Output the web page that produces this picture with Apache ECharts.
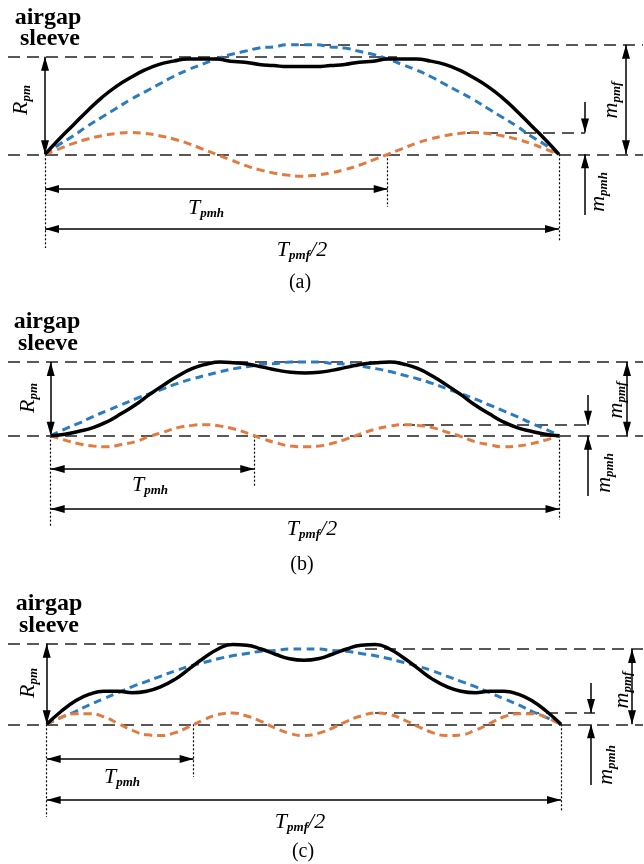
<!DOCTYPE html>
<html><head><meta charset="utf-8">
<script src="https://cdn.jsdelivr.net/npm/echarts@6/dist/echarts.min.js"></script>
<style>html,body{margin:0;padding:0;background:#fff}#c{width:644px;height:864px}</style>
</head><body><div id="c"></div>
<script>
// ---- data (per-unit of fundamental amplitude, electrical angle over half a pole pitch) ----
const angleDeg = [0,5,10,15,20,25,30,35,40,45,50,55,60,65,70,75,80,85,90,95,100,105,110,115,120,125,130,135,140,145,150,155,160,165,170,175,180];
const fundamentalPU = [0,0.09,0.17,0.26,0.34,0.42,0.50,0.57,0.64,0.71,0.77,0.82,0.87,0.91,0.94,0.97,0.98,1.00,1.00,1.00,0.98,0.97,0.94,0.91,0.87,0.82,0.77,0.71,0.64,0.57,0.50,0.42,0.34,0.26,0.17,0.09,0];
// (a) 3rd harmonic
const harmonicA = [0,0.05,0.10,0.14,0.17,0.19,0.20,0.19,0.17,0.14,0.10,0.05,0,-0.05,-0.10,-0.14,-0.17,-0.19,-0.20,-0.19,-0.17,-0.14,-0.10,-0.05,0,0.05,0.10,0.14,0.17,0.19,0.20,0.19,0.17,0.14,0.10,0.05,0];
const resultantA = [0,0.14,0.27,0.40,0.52,0.62,0.70,0.77,0.82,0.85,0.87,0.87,0.87,0.85,0.84,0.82,0.81,0.80,0.80,0.80,0.81,0.82,0.84,0.85,0.87,0.87,0.87,0.85,0.82,0.77,0.70,0.62,0.52,0.40,0.27,0.14,0];
// (b) 5th harmonic
const harmonicB = [0,-0.06,-0.11,-0.14,-0.15,-0.12,-0.08,-0.01,0.05,0.11,0.14,0.15,0.13,0.09,0.03,-0.04,-0.10,-0.14,-0.15,-0.14,-0.10,-0.04,0.03,0.09,0.13,0.15,0.14,0.11,0.05,-0.01,-0.08,-0.12,-0.15,-0.14,-0.11,-0.06,0];
const resultantB = [0,0.02,0.06,0.11,0.19,0.30,0.42,0.56,0.69,0.81,0.91,0.97,1.00,0.99,0.97,0.93,0.89,0.86,0.85,0.86,0.89,0.93,0.97,0.99,1.00,0.97,0.91,0.81,0.69,0.56,0.42,0.30,0.19,0.11,0.06,0.02,0];
// (c) 7th harmonic
const harmonicC = [0,0.09,0.14,0.14,0.10,0.01,-0.08,-0.14,-0.15,-0.11,-0.03,0.06,0.13,0.15,0.11,0.04,-0.05,-0.12,-0.15,-0.12,-0.05,0.04,0.11,0.15,0.13,0.06,-0.03,-0.11,-0.15,-0.14,-0.08,0.01,0.10,0.14,0.14,0.09,0];
const resultantC = [0,0.17,0.31,0.40,0.44,0.44,0.42,0.44,0.50,0.60,0.74,0.88,1.00,1.06,1.05,1.00,0.93,0.87,0.85,0.87,0.93,1.00,1.05,1.06,1.00,0.88,0.74,0.60,0.50,0.44,0.42,0.44,0.44,0.40,0.31,0.17,0];
// annotation levels
const rpmLevels = [0.89, 1.00, 1.07];
const fundamentalPeak = 1.0;
const harmonicPeaks = [0.20, 0.15, 0.15];
const harmonicPeriodsDeg = [120, 72, 51.43];
const captions = ['(a)', '(b)', '(c)'];

// ---- layout (pixels) ----
const panels = [
 { x0:45, x180:559, base:154.3, unit:109.6, top:0, bottom:290,
   harm: harmonicA, res: resultantA,
   rpmLine:[8,397], peakLine:[300,643], harmLine:[467,585],
   arrowX:585, downTop:102, upBottom:215, mpmfX:626,
   dotBottom:[248,207,242], tpmhY:189, tpmfY:229,
   lab:{airgap:[48,18], sleeve:[50,39], rpm:[21,100], mpmf:[611,100], mpmh:[598,192], tpmh:[206,208], tpmf:[302,250], cap:[300,283]} },
 { x0:50.7, x180:559.5, base:435.7, unit:73.7, top:290, bottom:580,
   harm: harmonicB, res: resultantB,
   rpmLine:[8,643], peakLine:null, harmLine:[403,588],
   arrowX:588, downTop:395, upBottom:496, mpmfX:627,
   dotBottom:[527,487,520], tpmhY:469, tpmfY:509,
   lab:{airgap:[47,322], sleeve:[48,344], rpm:[28,398], mpmf:[616,400], mpmh:[604,473], tpmh:[150,485], tpmf:[312,529], cap:[302,565]} },
 { x0:46.7, x180:561, base:724.3, unit:75.3, top:580, bottom:864,
   harm: harmonicC, res: resultantC,
   rpmLine:[8,235], peakLine:[365,643], harmLine:[375,595],
   arrowX:591, downTop:683, upBottom:785, mpmfX:632,
   dotBottom:[817,777,812], tpmhY:759, tpmfY:800,
   lab:{airgap:[49,604], sleeve:[49,626], rpm:[28,683], mpmf:[622,690], mpmh:[606,765], tpmh:[122,777], tpmf:[300,822], cap:[303,852]} }
];

const FONT = '"Liberation Serif","Times New Roman",serif';
const ARROW = 'path://M5,-16M5,0L10,16L0,16Z';
const AS = [8, 28];
const BLUE = '#2b7bbf', ORANGE = '#e27b3f';

function px2x(P, px){ return (px - P.x0) / (P.x180 - P.x0) * 180; }
function py2y(P, py){ return (P.base - py) / P.unit; }

const grids = [], xAxes = [], yAxes = [], series = [], graphics = [];
const richBase = {
  m: { fontFamily: FONT, fontStyle: 'italic', fontSize: 22, lineHeight: 24 },
  s: { fontFamily: FONT, fontStyle: 'italic', fontWeight: 'bold', fontSize: 13, lineHeight: 8, verticalAlign: 'bottom' }
};
function richText(x, y, text, rot){
  graphics.push({ type:'text', x:x, y:y, rotation: rot ? Math.PI/2 : 0, silent:true,
    style:{ text:text, rich: richBase, align:'center', verticalAlign:'middle', fill:'#000' } });
}
function plainText(x, y, text, font){
  graphics.push({ type:'text', x:x, y:y, silent:true,
    style:{ text:text, font:font, align:'center', verticalAlign:'middle', fill:'#000' } });
}

panels.forEach((P, i) => {
  grids.push({ left:0, right:0, top:P.top, height:P.bottom - P.top, containLabel:false });
  xAxes.push({ gridIndex:i, type:'value', min:px2x(P,0), max:px2x(P,644), show:false });
  yAxes.push({ gridIndex:i, type:'value', min:py2y(P,P.bottom), max:py2y(P,P.top), show:false });
  const rpm = rpmLevels[i], hp = harmonicPeaks[i], tp = harmonicPeriodsDeg[i];
  const common = { xAxisIndex:i, yAxisIndex:i, type:'line', smooth:true, symbol:'none', silent:true, animation:false };
  series.push(Object.assign({}, common, { z:3, data: angleDeg.map((a,k)=>[a, fundamentalPU[k]]),
    lineStyle:{ color:BLUE, width:3, type:[8,5] } }));
  series.push(Object.assign({}, common, { z:3, data: angleDeg.map((a,k)=>[a, P.harm[k]]),
    lineStyle:{ color:ORANGE, width:3, type:[8,5] } }));
  series.push(Object.assign({}, common, { z:4, data: angleDeg.map((a,k)=>[a, P.res[k]]),
    lineStyle:{ color:'#000', width:3.5 } }));

  // dashed reference lines
  const dashed = [
    [{coord:[px2x(P,8),0]},{coord:[px2x(P,643),0]}],
    [{coord:[px2x(P,P.rpmLine[0]),rpm]},{coord:[px2x(P,P.rpmLine[1]),rpm]}],
    [{coord:[px2x(P,P.harmLine[0]),hp]},{coord:[px2x(P,P.harmLine[1]),hp]}]
  ];
  if (P.peakLine) dashed.push([{coord:[px2x(P,P.peakLine[0]),fundamentalPeak]},{coord:[px2x(P,P.peakLine[1]),fundamentalPeak]}]);
  series.push(Object.assign({}, common, { data:[], markLine:{ silent:true, z:1, animation:false, symbol:'none',
    label:{show:false}, emphasis:{disabled:true},
    lineStyle:{ color:'#222', width:1.5, type:[12,7] }, data: dashed } }));

  // dotted verticals
  const dotted = [
    [{coord:[0,0]},{coord:[0,py2y(P,P.dotBottom[0])]}],
    [{coord:[tp,0]},{coord:[tp,py2y(P,P.dotBottom[1])]}],
    [{coord:[180,0]},{coord:[180,py2y(P,P.dotBottom[2])]}]
  ];
  series.push(Object.assign({}, common, { data:[], markLine:{ silent:true, z:1, animation:false, symbol:'none',
    label:{show:false}, emphasis:{disabled:true},
    lineStyle:{ color:'#000', width:1.2, type:[2,2] }, data: dotted } }));

  // arrows
  const A = (c) => ({coord:c, symbol:ARROW, symbolSize:AS});
  const N = (c) => ({coord:c, symbol:'none'});
  const ax = px2x(P,P.arrowX), mx = px2x(P,P.mpmfX);
  const arrows = [
    [A([0,0]), A([0,rpm])],
    [A([mx,0]), A([mx,fundamentalPeak])],
    [N([ax,py2y(P,P.downTop)]), A([ax,hp])],
    [N([ax,py2y(P,P.upBottom)]), A([ax,0])],
    [A([0,py2y(P,P.tpmhY)]), A([tp,py2y(P,P.tpmhY)])],
    [A([0,py2y(P,P.tpmfY)]), A([180,py2y(P,P.tpmfY)])]
  ];
  series.push(Object.assign({}, common, { data:[], markLine:{ silent:true, z:2, animation:false,
    label:{show:false}, emphasis:{disabled:true},
    lineStyle:{ color:'#000', width:1.5, type:'solid' }, data: arrows } }));

  // texts
  const L = P.lab;
  plainText(L.airgap[0], L.airgap[1], 'airgap', 'bold 24px ' + FONT);
  plainText(L.sleeve[0], L.sleeve[1], 'sleeve', 'bold 24px ' + FONT);
  richText(L.rpm[0], L.rpm[1], '{m|R}{s|pm}', true);
  richText(L.mpmf[0], L.mpmf[1], '{m|m}{s|pmf}', true);
  richText(L.mpmh[0], L.mpmh[1], '{m|m}{s|pmh}', true);
  richText(L.tpmh[0], L.tpmh[1], '{m|T}{s|pmh}', false);
  richText(L.tpmf[0], L.tpmf[1], '{m|T}{s|pmf}{m|/2}', false);
  plainText(L.cap[0], L.cap[1], captions[i], '20px ' + FONT);
});

const chart = echarts.init(document.getElementById('c'), null, {renderer:'canvas'});
chart.setOption({ animation:false, backgroundColor:'#fff', grid:grids, xAxis:xAxes, yAxis:yAxes, series:series, graphic:graphics });
</script></body></html>
